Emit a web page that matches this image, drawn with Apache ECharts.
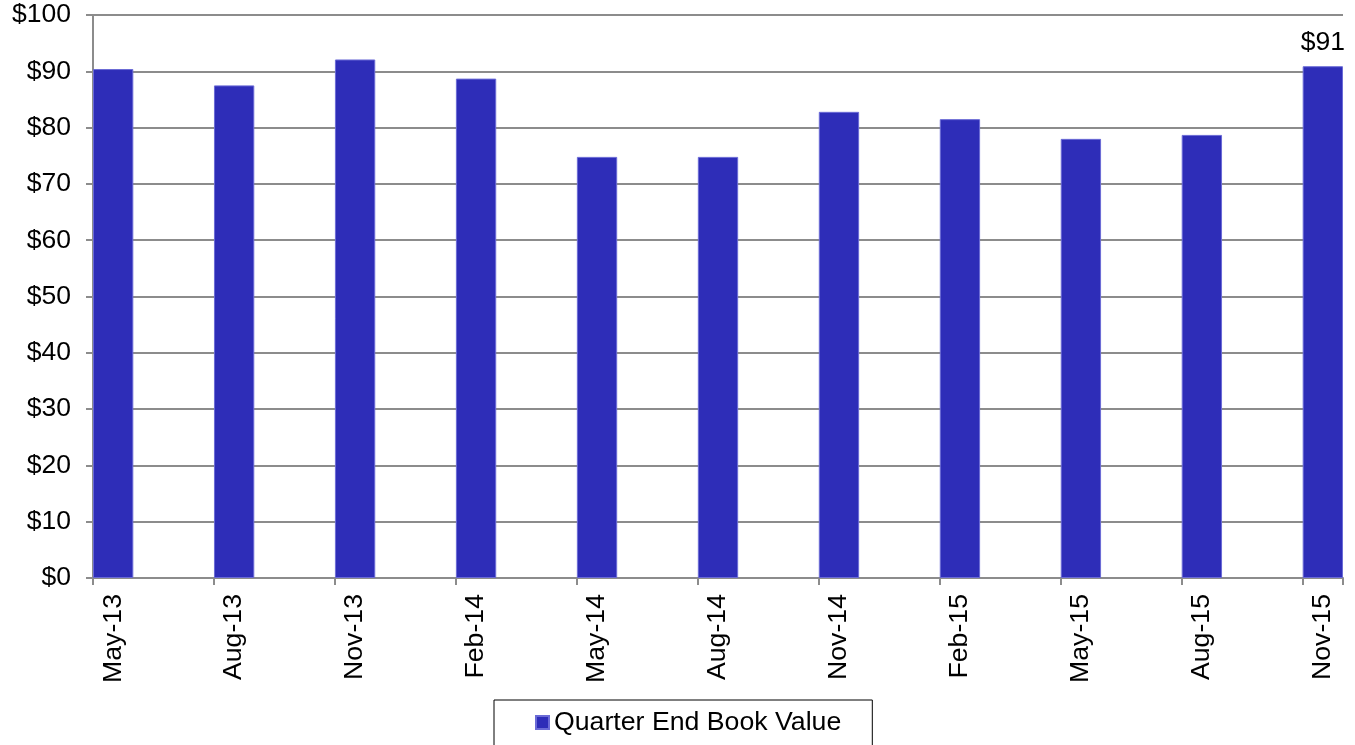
<!DOCTYPE html>
<html>
<head>
<meta charset="utf-8">
<script src="https://cdn.jsdelivr.net/npm/echarts@6/dist/echarts.min.js"></script>
<style>html,body{margin:0;padding:0;background:#fff;}#c{width:1355px;height:745px;}</style>
</head>
<body>
<div id="c"></div>
<script>
// Monthly category axis (bars only at quarter ends)
const months = ['May-13','Jun-13','Jul-13','Aug-13','Sep-13','Oct-13','Nov-13','Dec-13','Jan-14','Feb-14','Mar-14','Apr-14','May-14','Jun-14','Jul-14','Aug-14','Sep-14','Oct-14','Nov-14','Dec-14','Jan-15','Feb-15','Mar-15','Apr-15','May-15','Jun-15','Jul-15','Aug-15','Sep-15','Oct-15','Nov-15'];
const bookValue = [90.4,null,null,87.5,null,null,92.1,null,null,88.7,null,null,74.8,null,null,74.8,null,null,82.8,null,null,81.5,null,null,78.0,null,null,78.7,null,null,90.9];
const yTicks = [0,10,20,30,40,50,60,70,80,90,100];
const seriesName = 'Quarter End Book Value';
const labelledIndex = 30;

const FONT = 'Liberation Sans, Arial, sans-serif';
const chart = echarts.init(document.getElementById('c'), null, {renderer:'canvas'});
const data = bookValue.map((v, i) => i === labelledIndex ? {
  value: v,
  label: {show: true, position: 'top', distance: 10, formatter: p => '$' + Math.round(p.value), fontSize: 26.5, fontFamily: FONT, color: '#000'}
} : v);

chart.setOption({
  animation: false,
  grid: {left: 93, right: 12, top: 15, bottom: 167, containLabel: false},
  legend: {
    data: [{name: seriesName, icon: 'rect'}],
    left: 494, top: 700,
    padding: [9, 31, 14, 41],
    itemWidth: 13, itemHeight: 13,
    borderColor: '#000', borderWidth: 1,
    textStyle: {fontSize: 26.7, fontFamily: FONT, color: '#000'}
  },
  xAxis: {
    type: 'category',
    data: months,
    boundaryGap: true,
    axisLine: {lineStyle: {color: '#8c8c8c', width: 2}},
    axisTick: {show: true, interval: 2, length: 7, lineStyle: {color: '#8c8c8c', width: 2}},
    axisLabel: {interval: 2, rotate: 90, margin: 16, fontSize: 26.7, fontFamily: FONT, color: '#000'},
    splitLine: {show: false}
  },
  yAxis: {
    type: 'value',
    min: yTicks[0], max: yTicks[yTicks.length - 1], interval: 10,
    axisLine: {show: true, lineStyle: {color: '#8c8c8c', width: 2}},
    axisTick: {show: true, length: 7, lineStyle: {color: '#8c8c8c', width: 2}},
    axisLabel: {margin: 22, fontSize: 26.5, fontFamily: FONT, color: '#000', formatter: v => '$' + v},
    splitLine: {show: true, lineStyle: {color: '#8c8c8c', width: 2}}
  },
  series: [{
    name: seriesName,
    type: 'bar',
    data: data,
    barCategoryGap: '0%',
    itemStyle: {color: '#2E2DB8', borderColor: '#6b6bd6', borderWidth: 1}
  }]
});
</script>
</body>
</html>
